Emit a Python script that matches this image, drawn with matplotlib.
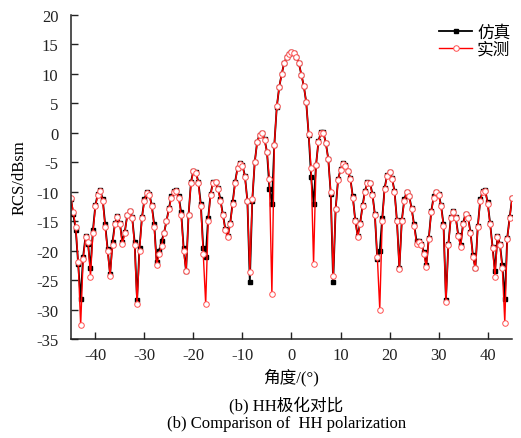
import numpy as np
import matplotlib
matplotlib.use("Agg")
import matplotlib.pyplot as plt

plt.rcParams['font.family'] = ['Liberation Serif', 'Noto Sans CJK SC']
plt.rcParams['axes.unicode_minus'] = False

# angle grid, 0.5 deg step from -45 to 45
angle = np.arange(-45, 45.01, 0.5)

# simulated RCS (dBsm)
sim = [
    -11.2, -13.8, -16.5, -22.3, -28.2, -21.0, -17.5, -18.8, -23.0, -16.5,
    -12.3, -10.3, -9.7, -11.3, -15.5, -19.8, -24.0, -18.5, -15.3, -14.2,
    -15.3, -18.5, -16.8, -14.0, -13.2, -14.3, -18.5, -28.3, -19.5, -14.3,
    -11.3, -10.0, -10.3, -12.3, -15.5, -22.0, -20.0, -18.3, -17.0, -15.0,
    -12.8, -10.8, -9.8, -9.7, -10.8, -13.5, -19.5, -23.5, -14.0, -8.3,
    -6.4, -6.7, -8.3, -12.0, -19.5, -21.0, -14.5, -10.3, -8.4, -8.3,
    -9.3, -11.3, -13.8, -16.3, -17.5, -15.3, -11.8, -8.3, -5.9, -5.2,
    -5.5, -7.3, -11.5, -25.3, -11.5, -5.0, -1.5, -0.3, 0.0, -1.1,
    -3.2, -9.5, -12.0, -2.0, 4.4, 7.8, 10.0, 11.8, 12.8, 13.4,
    13.7, 13.5, 12.9, 11.8, 9.9, 8.0, 5.2, -0.3, -7.5, -12.0,
    -5.5, -1.4, 0.1, 0.1, -1.7, -4.4, -10.3, -25.4, -13.0, -7.9,
    -6.2, -5.2, -5.5, -6.4, -7.7, -10.8, -14.8, -17.5, -15.3, -12.3,
    -9.8, -8.4, -8.5, -10.3, -13.8, -21.5, -20.0, -14.5, -9.3, -7.2,
    -6.6, -7.7, -9.8, -14.8, -23.0, -14.8, -11.3, -10.0, -10.7, -12.8,
    -15.5, -18.3, -18.3, -18.8, -20.3, -22.5, -17.8, -13.3, -10.8, -10.0,
    -10.3, -12.3, -15.5, -28.3, -18.8, -14.3, -13.3, -14.3, -17.3, -19.0,
    -15.3, -13.7, -14.3, -16.8, -20.8, -23.0, -15.8, -11.3, -9.8, -9.7,
    -11.8, -15.3, -19.3, -23.5, -17.5, -18.8, -22.5, -28.2, -17.8, -14.3,
    -11.0,
]

# measured RCS (dBsm)
meas = [
    -11.0, -13.5, -16.0, -22.0, -32.7, -21.5, -17.7, -18.5, -24.4, -17.0,
    -12.5, -10.5, -9.8, -11.5, -16.0, -20.0, -24.3, -19.0, -15.5, -14.3,
    -15.5, -18.9, -17.0, -14.0, -13.3, -14.5, -19.0, -29.1, -20.0, -14.5,
    -11.5, -10.2, -10.5, -12.5, -16.0, -22.5, -20.5, -19.2, -17.0, -15.0,
    -13.0, -11.0, -10.0, -9.8, -11.0, -14.0, -20.0, -23.5, -14.0, -8.5,
    -6.5, -6.8, -8.5, -12.5, -20.5, -29.1, -15.0, -10.5, -8.5, -8.4,
    -9.5, -11.5, -14.0, -16.5, -17.7, -15.5, -12.0, -8.5, -6.0, -5.3,
    -5.6, -7.5, -11.5, -23.6, -11.2, -5.0, -1.6, -0.4, -0.1, -1.2,
    -3.3, -7.8, -27.4, -2.0, 4.5, 7.8, 10.0, 11.8, 12.8, 13.4,
    13.7, 13.5, 12.9, 11.8, 9.9, 8.0, 5.2, -0.2, -6.0, -22.3,
    -5.5, -1.5, 0.0, 0.0, -1.8, -4.5, -10.1, -24.3, -13.0, -8.0,
    -6.3, -5.3, -5.6, -6.5, -7.8, -11.0, -15.0, -17.7, -15.5, -12.5,
    -10.0, -8.5, -8.6, -10.5, -14.0, -21.0, -30.0, -15.0, -9.5, -7.3,
    -6.7, -7.8, -10.0, -15.0, -23.2, -15.0, -11.5, -10.1, -10.8, -13.0,
    -15.8, -18.8, -18.5, -19.0, -20.5, -22.8, -18.0, -13.5, -11.0, -10.1,
    -10.5, -12.5, -15.8, -28.7, -19.0, -14.5, -13.4, -14.5, -17.5, -19.3,
    -15.5, -13.8, -14.5, -17.0, -21.0, -23.0, -16.0, -11.5, -10.0, -9.8,
    -12.0, -15.5, -19.5, -24.5, -17.7, -19.0, -23.0, -32.2, -18.0, -14.5,
    -11.0,
]

xticks = [-40, -30, -20, -10, 0, 10, 20, 30, 40]
yticks = list(range(-35, 21, 5))

fig = plt.figure(figsize=(5.21, 4.39), dpi=100)
ax = fig.add_axes([0.136, 0.2255, 0.847, 0.738])

ax.plot(angle, sim, color='black', lw=1.3, marker='s', ms=2.8,
        mfc='black', mec='black', label='仿真')
ax.plot(angle, meas, color='red', lw=1.0, marker='o', ms=4.0,
        mfc='white', mec='#ff5050', mew=0.7, label='实测')

ax.set_xlim(-45, 45)
ax.set_ylim(-35, 20)
ax.set_xticks(xticks)
ax.set_yticks(yticks)
ax.spines['top'].set_visible(False)
ax.spines['right'].set_visible(False)
for s in ['left', 'bottom']:
    ax.spines[s].set_linewidth(1.1)
    ax.spines[s].set_color('#222222')
ax.tick_params(direction='in', length=5, width=1.0, labelsize=12,
               colors='#222222')
ax.tick_params(axis='y', pad=9)
ax.tick_params(axis='x', pad=6)

ax.set_xlabel('角度/(°)', fontsize=12, labelpad=3)
ax.set_ylabel('RCS/dBsm', fontsize=12, labelpad=6)

ax.legend(loc='upper right', bbox_to_anchor=(1.0, 0.975), frameon=False,
          fontsize=12, handlelength=2.0, handletextpad=0.3,
          labelspacing=0.05, borderpad=0.1, borderaxespad=0.0)

fig.text(0.55, 0.077, '(b) HH极化对比', ha='center', va='center', fontsize=12)
fig.text(0.55, 0.034, '(b) Comparison of  HH polarization', ha='center',
         va='center', fontsize=12)

fig.savefig('out.png', dpi=100)
